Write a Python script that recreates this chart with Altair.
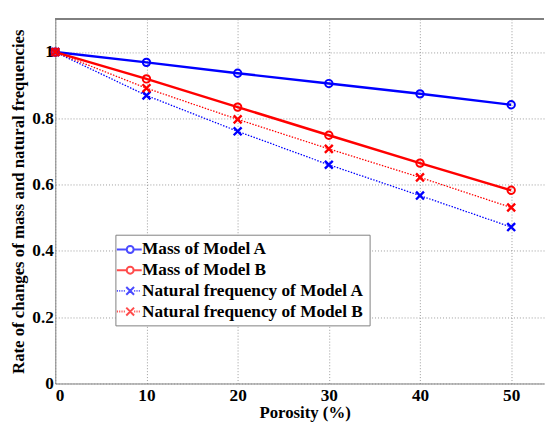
import altair as alt
import pandas as pd

# ---- data ----
porosity = [0, 10, 20, 30, 40, 50]
mass_a = [1.0, 0.969, 0.936, 0.905, 0.874, 0.841]
mass_b = [1.0, 0.919, 0.834, 0.749, 0.665, 0.583]
freq_a = [1.0, 0.869, 0.761, 0.660, 0.567, 0.472]
freq_b = [1.0, 0.891, 0.797, 0.708, 0.622, 0.531]
series_names = [
    "Mass of Model A",
    "Mass of Model B",
    "Natural frequency of Model A",
    "Natural frequency of Model B",
]
series_kind = ["mass", "mass", "freq", "freq"]
series_colors = ["#0000ff", "#ff0000", "#0000ff", "#ff0000"]
x_ticks = [0, 10, 20, 30, 40, 50]
y_ticks = [0, 0.2, 0.4, 0.6, 0.8, 1.0]

rows = []
for name, kind, vals in zip(series_names, series_kind, [mass_a, mass_b, freq_a, freq_b]):
    for p, v in zip(porosity, vals):
        rows.append({"porosity": p, "rate": v, "series": name, "kind": kind})
df = pd.DataFrame(rows)

FONT = "Liberation Serif"

# ---- symbol paths ----
X_MARK = "M-1,-1L1,1M-1,1L1,-1"


def dotted(x0, x1, seg=0.12, gap=0.14):
    parts = []
    x = x0
    while x + seg <= x1 + 1e-9:
        parts.append(f"M{x:.3f},0L{x + seg:.3f},0")
        x += seg + gap
    return "".join(parts)


r = 0.39
leg_circle = (
    f"M-1.5,0L{-r},0M{r},0L1.3,0"
    f"M{-r},0A{r},{r},0,1,1,{r},0A{r},{r},0,1,1,{-r},0"
)
leg_x = dotted(-1.5, -0.45) + dotted(0.45, 1.3) + "M-0.44,-0.44L0.44,0.44M-0.44,0.44L0.44,-0.44"
legend_shapes = [leg_circle, leg_circle, leg_x, leg_x]

color_scale = alt.Scale(domain=series_names, range=series_colors)

x_enc = alt.X(
    "porosity:Q",
    scale=alt.Scale(domain=[0, 53.6], nice=False, zero=False),
    axis=alt.Axis(
        values=x_ticks,
        format="d",
        title="Porosity (%)",
        titleX=253,
        titlePadding=1,
        labelPadding=3,
    ),
)
y_enc = alt.Y(
    "rate:Q",
    scale=alt.Scale(domain=[0, 1.1], nice=False),
    axis=alt.Axis(
        values=y_ticks,
        format="~g",
        title="Rate of changes of mass and natural frequencies",
        titlePadding=4,
        labelPadding=2,
    ),
)

base = alt.Chart(df)

legend_layer = base.transform_filter("datum.porosity == 0").mark_point(
    filled=False, size=1, strokeWidth=0.1
).encode(
    x=x_enc,
    y=y_enc,
    color=alt.Color(
        "series:N",
        scale=color_scale,
        legend=alt.Legend(
            title=None,
            orient="none",
            legendX=61,
            legendY=219,
            padding=5,
            strokeColor="#808080",
            fillColor="white",
            cornerRadius=0,
            symbolSize=324,
            symbolStrokeWidth=2,
            labelFont=FONT,
            labelFontSize=17.5,
            labelFontWeight="bold",
            labelColor="black",
            labelOffset=2,
            labelLimit=0,
            rowPadding=2,
        ),
    ),
    shape=alt.Shape(
        "series:N",
        scale=alt.Scale(domain=series_names, range=legend_shapes),
        legend=alt.Legend(
            title=None,
            orient="none",
            legendX=61,
            legendY=219,
            symbolSize=324,
            symbolStrokeWidth=2,
        ),
    ),
)

freq_lines = base.transform_filter("datum.kind == 'freq'").mark_line(
    strokeWidth=1.3, strokeDash=[1.5, 1.5]
).encode(x=x_enc, y=y_enc, color=alt.Color("series:N", scale=color_scale, legend=None))

mass_lines = base.transform_filter("datum.kind == 'mass'").mark_line(
    strokeWidth=2.5
).encode(x=x_enc, y=y_enc, color=alt.Color("series:N", scale=color_scale, legend=None))

mass_pts = base.transform_filter("datum.kind == 'mass'").mark_point(
    shape="circle", filled=False, size=56, strokeWidth=2, opacity=1
).encode(x=x_enc, y=y_enc, color=alt.Color("series:N", scale=color_scale, legend=None))

freq_pts = base.transform_filter("datum.kind == 'freq'").mark_point(
    shape=X_MARK, filled=False, size=64, strokeWidth=2.4, opacity=1
).encode(x=x_enc, y=y_enc, color=alt.Color("series:N", scale=color_scale, legend=None))

top_border = alt.Chart(df).mark_rule(color="#808080", strokeWidth=1).encode(
    y=alt.datum(1.1)
)

chart = (
    alt.layer(legend_layer, top_border, freq_lines, mass_lines, mass_pts, freq_pts)
    .properties(
        width=496,
        height=370,
        padding={"left": 2, "top": 7, "right": 0, "bottom": 0},
        background="white",
    )
    .configure(font=FONT)
    .configure_view(stroke=None)
    .configure_axis(
        labelFont=FONT,
        labelFontSize=17.5,
        labelFontWeight="bold",
        labelColor="black",
        titleFont=FONT,
        titleFontSize=17,
        titleFontWeight="bold",
        titleColor="black",
        ticks=False,
        grid=True,
        gridColor="#9a9a9a",
        gridDash=[1, 2],
        gridWidth=1,
        domainColor="#808080",
        domainWidth=1,
    )
)

chart.save("out.html", embed_options={"renderer": "svg", "actions": False})
